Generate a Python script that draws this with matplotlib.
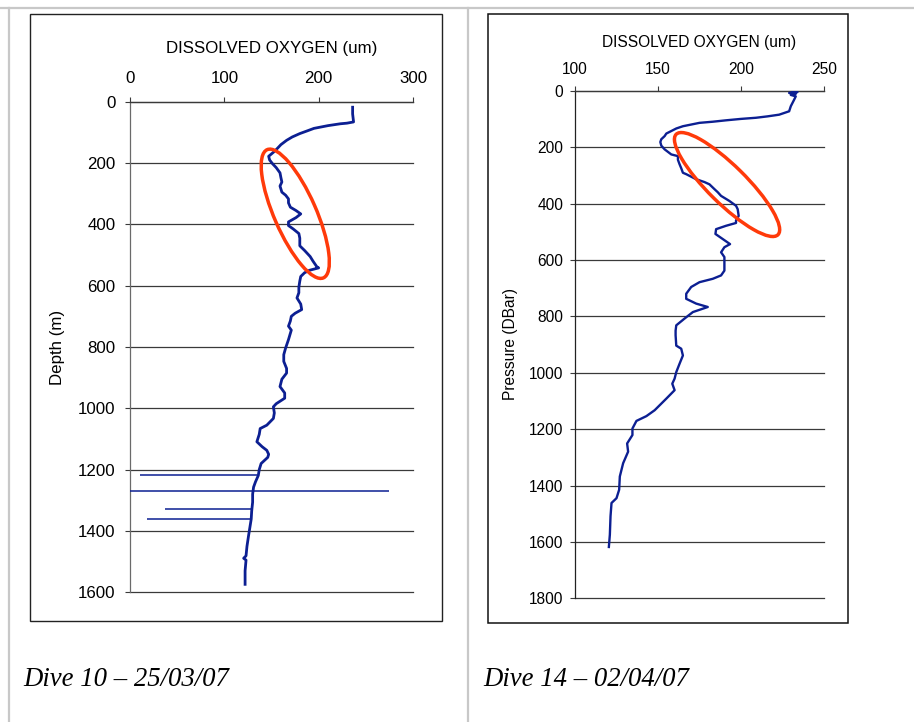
import matplotlib
matplotlib.use("Agg")
import matplotlib.pyplot as plt
from matplotlib.patches import Ellipse, Rectangle

# ── Data ────────────────────────────────────────────────────────────
dive10_oxygen = [236, 236, 237, 230, 223, 210, 195, 188, 180, 172, 166, 160, 156, 152,
                 147, 148, 151, 155, 159, 160, 161, 159, 161, 165, 168, 168, 170, 176,
                 181, 176, 168, 168, 173, 179, 180, 180, 185, 191, 194, 198, 200, 190,
                 185, 181, 180, 179, 179, 177, 181, 182, 175, 171, 170, 168, 171, 168,
                 165, 163, 163, 166, 166, 161, 159, 164, 164, 155, 152, 153, 152, 145,
                 138, 137, 134.5, 140, 145, 147, 146, 139, 137, 136, 133, 131, 130, 130,
                 129, 128.5, 127, 125.7, 124, 123, 120.5, 123, 122, 122]
dive10_depth = [18, 40, 66, 70, 72, 78, 87, 95, 104, 115, 126, 140, 153, 165,
                178, 190, 202, 215, 232, 248, 262, 275, 295, 305, 317, 330, 344, 355,
                366, 378, 392, 404, 415, 430, 445, 470, 485, 505, 520, 538, 542, 550,
                558, 570, 585, 605, 623, 640, 660, 678, 690, 700, 715, 732, 745, 776,
                803, 825, 847, 870, 885, 905, 929, 950, 967, 985, 995, 1015, 1033, 1055,
                1066, 1085, 1109, 1125, 1137, 1150, 1160, 1180, 1200, 1219, 1240, 1257, 1280, 1306,
                1335, 1361, 1390, 1415, 1450, 1481, 1489, 1495, 1530, 1574]

# sensor spikes in dive 10 (depth, low end, high end)
spike_depth = [1216, 1271, 1329, 1360]
spike_low = [10.6, 0, 37, 18]
spike_high = [134.5, 275, 129, 127.5]

dive14_oxygen = [231, 234, 229, 233, 230, 233, 232, 230, 229, 223, 216, 209, 200, 191,
                 183, 175, 170, 165, 161, 158, 155, 154, 152, 151.4, 152, 154, 158, 162,
                 162, 163, 164, 165, 167, 170, 173, 178, 181, 184, 186, 188, 193, 197,
                 198, 198.6, 197, 197, 191, 185, 184.6, 189, 193.4, 190, 188, 190, 190,
                 190, 188, 183, 175, 170, 167, 167, 173, 180, 171, 166, 161, 160.6, 160.6,
                 161, 164, 165, 163, 161, 160, 158.6, 160, 155, 148, 143, 137, 134.6, 134.6,
                 131.4, 132, 129, 127, 126.6, 125, 122, 121.4, 121, 120.4]
dive14_pressure = [2, 5, 8, 11, 15, 20, 32, 55, 73, 85, 91, 96, 100, 105,
                   110, 114, 120, 126, 134, 143, 152, 161, 172, 182, 195, 208, 226, 232,
                   245, 261, 275, 291, 296, 305, 314, 324, 332, 349, 360, 373, 391, 408,
                   420, 444, 460, 469, 479, 491, 508, 526, 544, 555, 573, 590, 608,
                   638, 655, 667, 679, 696, 720, 738, 755, 767, 785, 808, 832, 851, 867,
                   904, 915, 939, 968, 998, 1021, 1039, 1062, 1092, 1133, 1154, 1171, 1198, 1221,
                   1251, 1280, 1321, 1368, 1415, 1445, 1462, 1509, 1574, 1618]

dive10_xticks = [0, 100, 200, 300]
dive10_yticks = [0, 200, 400, 600, 800, 1000, 1200, 1400, 1600]
dive14_xticks = [100, 150, 200, 250]
dive14_yticks = [0, 200, 400, 600, 800, 1000, 1200, 1400, 1600, 1800]

# ── Style ───────────────────────────────────────────────────────────
W, H = 914, 722
_NAVY = "#0c1f92"
_RED = "#ff3a0a"
_GRID = "#3a3a3a"
_TABLE = "#c8c8c8"
plt.rcParams["font.family"] = ["Liberation Sans", "DejaVu Sans"]


def _px_axes(fig, x0, y0, x1, y1):
    """axes from pixel box (top-left origin)"""
    return fig.add_axes([x0 / W, 1 - y1 / H, (x1 - x0) / W, (y1 - y0) / H])


def _style(ax, fs, xpad, ypad, spine_col):
    ax.xaxis.tick_top()
    ax.xaxis.set_label_position("top")
    for side in ("right", "bottom"):
        ax.spines[side].set_visible(False)
    ax.spines["top"].set_color(_GRID)
    ax.spines["left"].set_color(spine_col)
    for sp in ("top", "left"):
        ax.spines[sp].set_linewidth(0.9)
    ax.tick_params(axis="x", direction="out", length=3.6, width=0.8, colors=_GRID,
                   labelsize=fs, labelcolor="black", pad=xpad)
    ax.tick_params(axis="y", direction="out", length=3.6, width=0.8, colors=_GRID,
                   labelsize=fs, labelcolor="black", pad=ypad)
    ax.yaxis.grid(True, color=_GRID, lw=0.9)
    for gl in ax.get_ygridlines():
        gl.set_clip_on(False)
    ax.set_axisbelow(True)


fig = plt.figure(figsize=(W / 100, H / 100), dpi=100, facecolor="white")

# Dive 10
ax1 = _px_axes(fig, 130, 101.7, 413, 592.3)
ax1.plot(dive10_oxygen, dive10_depth, color=_NAVY, lw=2.0, zorder=3)
ax1.hlines(spike_depth, spike_low, spike_high, color=_NAVY, lw=1.1, zorder=3)
ax1.set_xlim(0, 300)
ax1.set_ylim(1600, 0)
ax1.set_xticks(dive10_xticks)
ax1.set_yticks(dive10_yticks)
_style(ax1, 12.2, 8, 7, "#6a6a6a")
ax1.set_xlabel("DISSOLVED OXYGEN (um)", fontsize=12.2, labelpad=13)
ax1.set_ylabel("Depth (m)", fontsize=12.2, labelpad=9)

# Dive 14
ax2 = _px_axes(fig, 575, 90.7, 824, 598.3)
ax2.plot(dive14_oxygen, dive14_pressure, color=_NAVY, lw=1.7, zorder=3)
ax2.set_xlim(100, 250)
ax2.set_ylim(1800, 0)
ax2.set_xticks(dive14_xticks)
ax2.set_yticks(dive14_yticks)
_style(ax2, 11.2, 6.2, 5, "#222222")
ax2.set_xlabel("DISSOLVED OXYGEN (um)", fontsize=11.2, labelpad=11)
ax2.set_ylabel("Pressure (DBar)", fontsize=11.2, labelpad=8)

# overlay in pixel coords: table rules, chart frames, highlight ellipses
ov = fig.add_axes([0, 0, 1, 1], facecolor="none")
ov.set_xlim(0, W)
ov.set_ylim(H, 0)
ov.axis("off")
ov.plot([0, W], [7.5, 7.5], color=_TABLE, lw=1.6)
ov.plot([9, 9], [7.5, H], color=_TABLE, lw=1.6)
ov.plot([468, 468], [7.5, H], color=_TABLE, lw=1.6)
ov.add_patch(Rectangle((29.5, 14), 412.5, 607, fill=False, ec="#222222", lw=1.0))
ov.add_patch(Rectangle((488.3, 14), 360, 608.5, fill=False, ec="#111111", lw=1.1))

# ellipses anchored on data positions of each profile
for ax, (cx, cy), (w, h), ang in [
    (ax1, (175.2, 365.5), (140, 42), 66.3),
    (ax2, (191.6, 332.7), (143, 38), 44.6),
]:
    px, py = ax.transData.transform((cx, cy))
    ov.add_patch(Ellipse((px, H - py), w, h, angle=ang, fill=False,
                         ec=_RED, lw=2.5, zorder=5))

cap = dict(fontsize=19.3, family=["Liberation Serif", "DejaVu Serif"],
           style="italic", va="baseline", ha="left")
fig.text(23 / W, 1 - 686 / H, "Dive 10 – 25/03/07", **cap)
fig.text(483.3 / W, 1 - 686.5 / H, "Dive 14 – 02/04/07", **cap)

fig.savefig("out.png", dpi=100, facecolor="white")
